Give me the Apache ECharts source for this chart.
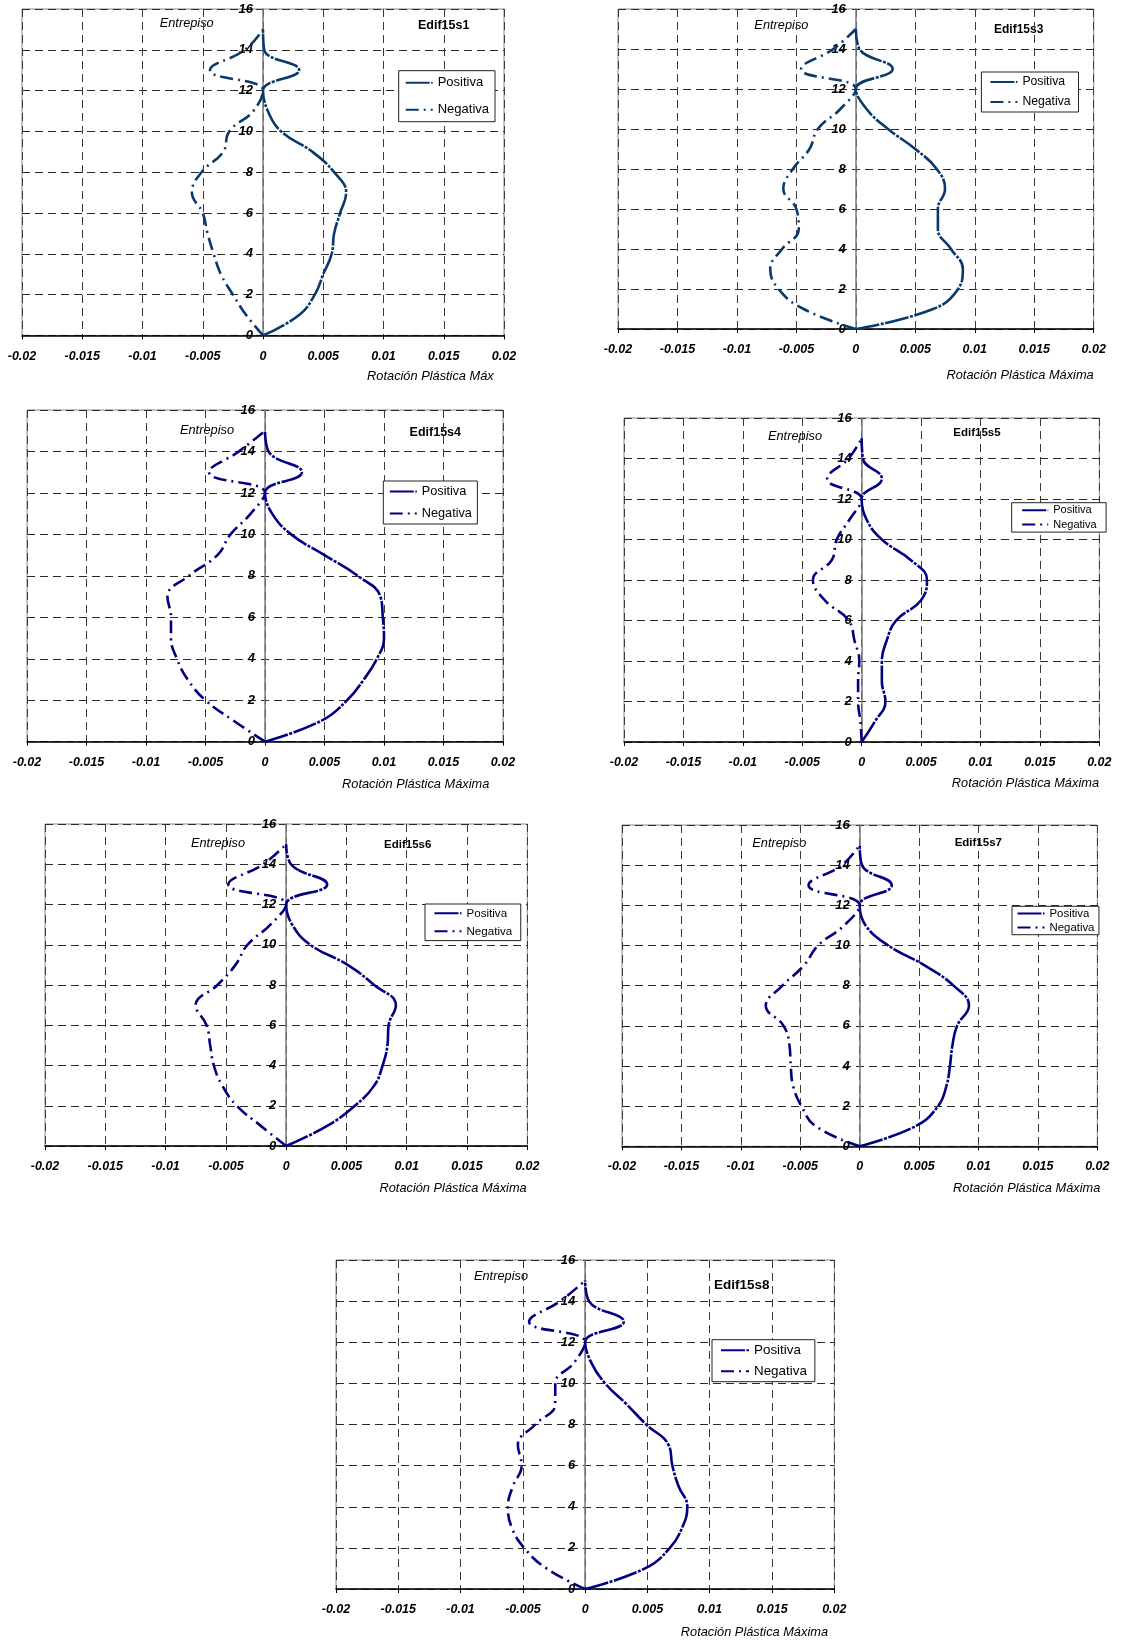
<!DOCTYPE html>
<html>
<head>
<meta charset="utf-8">
<script src="https://cdn.jsdelivr.net/npm/echarts@6/dist/echarts.min.js"></script>
<style>
html,body{margin:0;padding:0;background:#fff;overflow:hidden;}
#wrap{position:relative;width:1131px;height:1644px;background:#fff;overflow:hidden;}
.c{position:absolute;}
</style>
</head>
<body>
<div id="wrap"></div>
<script>
// ---------- DATA ----------
const storeys = [0,1,2,3,4,5,6,7,8,9,10,11,12,13,14,15];
const chartTitles = ['Edif15s1','Edif15s3','Edif15s4','Edif15s5','Edif15s6','Edif15s7','Edif15s8'];
const seriesNames = ['Positiva','Negativa'];
const yAxisName = 'Entrepiso';
const xAxisNames = ['Rotación Plástica Máx','Rotación Plástica Máxima','Rotación Plástica Máxima','Rotación Plástica Máxima','Rotación Plástica Máxima','Rotación Plástica Máxima','Rotación Plástica Máxima'];

const pos15s1 = [0,0.0030,0.0043,0.0050,0.0057,0.0059,0.0064,0.0069,0.0059,0.0041,0.0015,0.0004,0,0.0030,0.0001,0];
const neg15s1 = [0,-0.0014,-0.0025,-0.0035,-0.0041,-0.0046,-0.0050,-0.0059,-0.0051,-0.0033,-0.0028,-0.0008,0,-0.0044,-0.0015,0];
const pos15s3 = [0,0.0065,0.0086,0.0090,0.0080,0.0069,0.0069,0.0075,0.0068,0.0050,0.0027,0.0009,0,0.0031,0.0003,0];
const neg15s3 = [0,-0.0044,-0.0065,-0.0072,-0.0062,-0.0048,-0.0050,-0.0061,-0.0053,-0.0039,-0.0032,-0.0013,0,-0.0046,-0.0019,0];
const pos15s4 = [0,0.0047,0.0069,0.0083,0.0094,0.0100,0.0099,0.0097,0.0078,0.0050,0.0022,0.0006,0,0.0031,0.0003,0];
const neg15s4 = [0,-0.0026,-0.0050,-0.0065,-0.0074,-0.0079,-0.0079,-0.0082,-0.0064,-0.0040,-0.0029,-0.0012,0,-0.0047,-0.0022,0];
const pos15s5 = [0,0.0011,0.0020,0.0017,0.0017,0.0021,0.0029,0.0050,0.0055,0.0041,0.0017,0.0004,0,0.0017,0.0001,0];
const neg15s5 = [0,-0.0001,-0.0003,-0.0003,-0.0002,-0.0006,-0.0011,-0.0031,-0.0041,-0.0025,-0.0021,-0.0010,0,-0.0029,-0.0011,0];
const pos15s6 = [0,0.0034,0.0057,0.0073,0.0080,0.0084,0.0085,0.0091,0.0073,0.0051,0.0020,0.0005,0,0.0034,0.0004,0];
const neg15s6 = [0,-0.0021,-0.0041,-0.0053,-0.0060,-0.0063,-0.0066,-0.0075,-0.0057,-0.0042,-0.0032,-0.0013,0,-0.0048,-0.0019,0];
const pos15s7 = [0,0.0047,0.0066,0.0073,0.0076,0.0078,0.0082,0.0092,0.0079,0.0055,0.0024,0.0005,0,0.0027,0.0002,0];
const neg15s7 = [0,-0.0037,-0.0049,-0.0056,-0.0058,-0.0059,-0.0064,-0.0079,-0.0065,-0.0047,-0.0035,-0.0013,0,-0.0043,-0.0015,0];
const pos15s8 = [0,0.0048,0.0068,0.0078,0.0082,0.0075,0.0070,0.0067,0.0049,0.0033,0.0016,0.0005,0,0.0031,0.0003,0];
const neg15s8 = [0,-0.0031,-0.0049,-0.0059,-0.0062,-0.0058,-0.0051,-0.0054,-0.0040,-0.0024,-0.0024,-0.0009,0,-0.0045,-0.0020,0];

const positives = [pos15s1,pos15s3,pos15s4,pos15s5,pos15s6,pos15s7,pos15s8];
const negatives = [neg15s1,neg15s3,neg15s4,neg15s5,neg15s6,neg15s7,neg15s8];

const xMin = -0.02, xMax = 0.02, xStep = 0.005;
const yMin = 0, yMax = 16, yStep = 2;

// ---------- LAYOUT / STYLE ----------
const lineColors = ['#0a3a6b','#0a3a6b','#000080','#000080','#000080','#000080','#000080'];
// plot box l,t,r,b ; axis name right,y ; Entrepiso x,y ; title x,y,size ; legend l,t,gap,padV,padH,fontSize,iconW
const layouts = [
  {p:[22.3,9.3,504.3,335.7], n:[494,377], e:[187,24], t:[444,26,12.5], lg:[399,71,14,5.5,6,13,27], lm:15},
  {p:[618.3,9,1094,329], n:[1094,375.7], e:[781.7,25], t:[1019,30,12], lg:[981.7,72,8,4,8,12.2,27], lm:14},
  {p:[26.7,410,502.7,741.7], n:[489,784], e:[206.7,430], t:[435,433,12.5], lg:[383,481,9,4,5.5,12.7,27], lm:14},
  {p:[624,418.3,1099.3,742.3], n:[1099,784], e:[795,437], t:[977,433,11.5], lg:[1011.7,503,3,2,9.5,11,26], lm:14},
  {p:[45,824,527.3,1146], n:[526.7,1188], e:[218,843], t:[407.7,844.7,11.5], lg:[425,904,6,3.3,8.5,11.6,27], lm:14},
  {p:[621.7,824.7,1097,1146], n:[1100,1188], e:[779,843], t:[978,842.7,11.5], lg:[1011.7,906,3,1.5,4.5,11.4,27], lm:14},
  {p:[336,1260.3,834.3,1589.3], n:[828,1633], e:[501,1276.7], t:[741.7,1285.7,13.5], lg:[712,1340,8,4,8,13.4,28], lm:14}
];
const FONT = 'Liberation Sans, Arial, sans-serif';
const M = 60, TOPM = 22, BOTM = 62;

const wrap = document.getElementById('wrap');

function txt(x, y, text, font, align) {
  return {
    type: 'text', x: x, y: y, silent: true,
    style: { text: text, font: font, fill: '#000',
      align: align, textAlign: align, verticalAlign: 'middle', textVerticalAlign: 'middle' }
  };
}

layouts.forEach((L, i) => {
  const [l, t, r, b] = L.p;
  const dl = l - M, dt = t - TOPM;
  const w = (r - l) + 2 * M, h = (b - t) + TOPM + BOTM;
  const div = document.createElement('div');
  div.className = 'c';
  div.style.left = dl + 'px';
  div.style.top = dt + 'px';
  div.style.width = w + 'px';
  div.style.height = h + 'px';
  wrap.appendChild(div);
  const chart = echarts.init(div, null, {renderer: 'canvas'});
  const color = lineColors[i];
  const posData = storeys.map((s, k) => [positives[i][k], s]);
  const negData = storeys.map((s, k) => [negatives[i][k], s]);
  const [lgL, lgT, lgGap, padV, padH, lgFs, iconW] = L.lg;
  chart.setOption({
    animation: false,
    textStyle: { fontFamily: FONT },
    grid: { left: M, top: TOPM, width: r - l, height: b - t, show: true,
            borderColor: '#8a8a8a', borderWidth: 1, backgroundColor: 'transparent' },
    xAxis: {
      type: 'value', min: xMin, max: xMax, interval: xStep,
      axisLine: { onZero: false, lineStyle: { color: '#000', width: 1.5 } },
      axisTick: { show: true, length: 4, lineStyle: { color: '#000', width: 1 } },
      axisLabel: { margin: L.lm, color: '#000', fontSize: 12.5, fontWeight: 'bold', fontStyle: 'italic', fontFamily: FONT,
                   formatter: v => String(+v.toFixed(4)) },
      splitLine: { show: true, lineStyle: { color: '#3a3a3a', width: 1, type: [8, 5] } }
    },
    yAxis: {
      type: 'value', min: yMin, max: yMax, interval: yStep,
      position: 'left', offset: -(r - l) / 2,
      axisLine: { show: true, onZero: false, lineStyle: { color: '#7a7a7a', width: 1.5 } },
      axisTick: { show: false },
      axisLabel: { margin: 10, color: '#000', fontSize: 13, fontWeight: 'bold', fontStyle: 'italic', fontFamily: FONT },
      splitLine: { show: true, lineStyle: { color: '#2a2a2a', width: 1, type: [8, 5] } }
    },
    legend: {
      orient: 'vertical', left: lgL - dl, top: lgT - dt,
      itemWidth: iconW, itemHeight: 14, itemGap: lgGap,
      padding: [padV, padH], borderColor: '#222', borderWidth: 1, backgroundColor: '#fff',
      itemStyle: { opacity: 0 },
      textStyle: { fontSize: lgFs, color: '#000', fontFamily: FONT },
      data: seriesNames, selectedMode: false
    },
    graphic: [
      txt(L.n[0] - dl, L.n[1] - dt, xAxisNames[i], 'italic 12.8px ' + FONT, 'right'),
      txt(L.e[0] - dl, L.e[1] - dt, yAxisName, 'italic 12.8px ' + FONT, 'center'),
      txt(L.t[0] - dl, L.t[1] - dt, chartTitles[i], 'bold ' + L.t[2] + 'px ' + FONT, 'center')
    ],
    series: [
      { name: seriesNames[0], type: 'line', data: posData, smooth: 0.45, showSymbol: false, symbol: 'none',
        lineStyle: { color: color, width: 2.6, type: [24, 1.5, 3, 1.5] }, itemStyle: { color: color }, z: 5 },
      { name: seriesNames[1], type: 'line', data: negData, smooth: 0.45, showSymbol: false, symbol: 'none',
        lineStyle: { color: color, width: 2.6, type: [13, 5, 2, 5] }, itemStyle: { color: color }, z: 5 }
    ]
  });
});
</script>
</body>
</html>
